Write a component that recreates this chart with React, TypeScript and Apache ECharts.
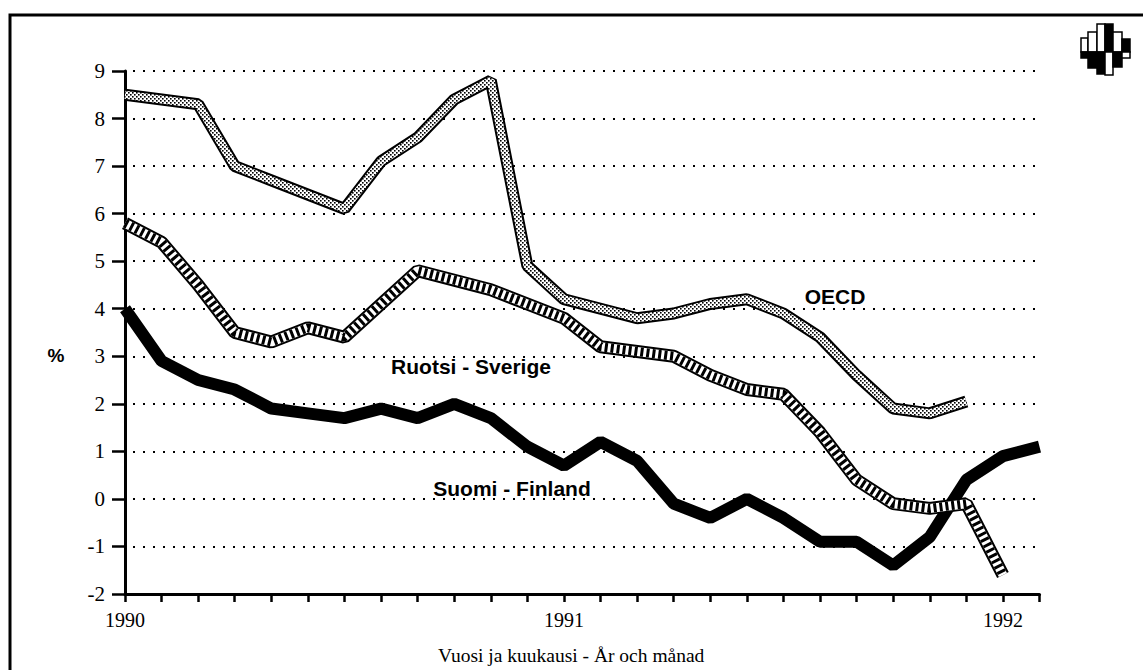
import React, { useEffect, useRef } from "react";
import * as echarts from "echarts";

const months = [
  "1990-01", "1990-02", "1990-03", "1990-04", "1990-05", "1990-06", "1990-07", "1990-08", "1990-09", "1990-10", "1990-11", "1990-12",
  "1991-01", "1991-02", "1991-03", "1991-04", "1991-05", "1991-06", "1991-07", "1991-08", "1991-09", "1991-10", "1991-11", "1991-12",
  "1992-01", "1992-02",
];
const finland = [4.0, 2.9, 2.5, 2.3, 1.9, 1.8, 1.7, 1.9, 1.7, 2.0, 1.7, 1.1, 0.7, 1.2, 0.8, -0.1, -0.4, 0.0, -0.4, -0.9, -0.9, -1.4, -0.8, 0.4, 0.9, 1.1];
const sweden = [5.8, 5.4, 4.5, 3.5, 3.3, 3.6, 3.4, 4.1, 4.8, 4.6, 4.4, 4.1, 3.8, 3.2, 3.1, 3.0, 2.6, 2.3, 2.2, 1.4, 0.4, -0.1, -0.2, -0.1, -1.6];
const oecd = [8.5, 8.4, 8.3, 7.0, 6.7, 6.4, 6.1, 7.1, 7.6, 8.4, 8.8, 4.9, 4.2, 4.0, 3.8, 3.9, 4.1, 4.2, 3.9, 3.4, 2.6, 1.9, 1.8, 2.05];

const seriesNames = ["OECD", "Ruotsi - Sverige", "Suomi - Finland"];
const yAxisName = "%";
const xAxisName = "Vuosi ja kuukausi - År och månad";

function makeDotPattern(): any {
  const c = document.createElement("canvas");
  c.width = 4;
  c.height = 4;
  const ctx = c.getContext("2d")!;
  ctx.fillStyle = "#ffffff";
  ctx.fillRect(0, 0, 4, 4);
  ctx.fillStyle = "#000000";
  ctx.fillRect(0, 0, 1.6, 1.6);
  ctx.fillRect(2, 2, 1.6, 1.6);
  return { image: c.toDataURL(), repeat: "repeat", imageWidth: 4, imageHeight: 4 };
}

export default function App() {
  const ref = useRef<HTMLDivElement>(null);
  useEffect(() => {
    if (!ref.current) return;
    const chart = echarts.init(ref.current, null, { renderer: "svg" });
    const dot = makeDotPattern();
    const base = {
      type: "line",
      showSymbol: false,
      symbol: "none",
      clip: false,
      silent: true,
    };
    const logoCols = [
      { x: 1081, w: 7, top: 38, bot: 58, topBlack: false },
      { x: 1088, w: 9, top: 32, bot: 68, topBlack: false },
      { x: 1097, w: 8, top: 24, bot: 74, topBlack: false },
      { x: 1105, w: 8, top: 24, bot: 75, topBlack: true },
      { x: 1113, w: 9, top: 32, bot: 67, topBlack: false },
      { x: 1122, w: 8, top: 39, bot: 58, topBlack: true },
    ];
    const mid = 52;
    const logo: any[] = [];
    logoCols.forEach((c) => {
      logo.push({
        type: "rect",
        shape: { x: c.x, y: c.top, width: c.w, height: mid - c.top },
        style: { fill: c.topBlack ? "#000" : "#fff", stroke: "#000", lineWidth: 1.5 },
      });
      logo.push({
        type: "rect",
        shape: { x: c.x, y: mid, width: c.w, height: c.bot - mid },
        style: { fill: c.topBlack ? "#fff" : "#000", stroke: "#000", lineWidth: 1.5 },
      });
    });
    const labelFont = "bold 21px 'Liberation Sans'";
    chart.setOption({
      animation: false,
      backgroundColor: "#ffffff",
      grid: { left: 125, right: 103.5, top: 71, bottom: 76 },
      xAxis: {
        type: "category",
        data: months,
        boundaryGap: false,
        axisLine: { onZero: false, lineStyle: { color: "#000", width: 3 } },
        axisTick: { show: true, interval: 0, length: 8, lineStyle: { color: "#000", width: 2.5 } },
        axisLabel: {
          interval: (i: number) => i % 12 === 0,
          formatter: (v: string) => v.slice(0, 4),
          color: "#000",
          fontFamily: "Liberation Serif",
          fontSize: 20,
          margin: 16,
        },
        splitLine: { show: false },
      },
      yAxis: {
        type: "value",
        min: -2,
        max: 9,
        interval: 1,
        axisLine: { show: true, lineStyle: { color: "#000", width: 3 } },
        axisTick: { show: true, length: 13, lineStyle: { color: "#000", width: 2.5 } },
        axisLabel: {
          color: "#000",
          fontFamily: "Liberation Serif",
          fontSize: 21,
          margin: 20,
        },
        splitLine: {
          show: true,
          lineStyle: { color: "#000", width: 2, type: [2, 8], dashOffset: -8 },
        },
      },
      series: [
        { ...base, name: seriesNames[2], data: finland, z: 2, lineStyle: { color: "#000", width: 12, cap: "butt", join: "bevel" } },
        { ...base, name: seriesNames[1] + "-o", data: sweden, z: 3, lineStyle: { color: "#000", width: 13, cap: "butt", join: "bevel" } },
        { ...base, name: seriesNames[1] + "-w", data: sweden, z: 4, lineStyle: { color: "#fff", width: 9, cap: "butt", join: "bevel" } },
        { ...base, name: seriesNames[1], data: sweden, z: 5, lineStyle: { color: "#000", width: 9, type: [3, 3], cap: "butt", join: "bevel" } },
        { ...base, name: seriesNames[0] + "-o", data: oecd, z: 3, lineStyle: { color: "#000", width: 12, cap: "butt", join: "bevel" } },
        { ...base, name: seriesNames[0], data: oecd, z: 4, lineStyle: { color: dot, width: 8, cap: "butt", join: "bevel" } },
      ],
      graphic: [
        {
          type: "rect",
          shape: { x: 10, y: 15, width: 1300, height: 800 },
          style: { fill: "none", stroke: "#000", lineWidth: 3 },
          z: 10,
        },
        { type: "group", children: logo },
        {
          type: "text",
          x: 56, y: 355,
          style: { text: yAxisName, font: "bold 19px 'Liberation Sans'", fill: "#000", align: "center", verticalAlign: "middle" },
        },
        {
          type: "text",
          x: 835, y: 296,
          style: { text: seriesNames[0], font: labelFont, fill: "#000", align: "center", verticalAlign: "middle" },
        },
        {
          type: "text",
          x: 471, y: 366,
          style: { text: seriesNames[1], font: labelFont, fill: "#000", align: "center", verticalAlign: "middle" },
        },
        {
          type: "text",
          x: 512, y: 488,
          style: { text: seriesNames[2], font: labelFont, fill: "#000", align: "center", verticalAlign: "middle" },
        },
        {
          type: "text",
          x: 438, y: 655,
          style: { text: xAxisName, font: "19.5px 'Liberation Serif'", fill: "#000", align: "left", verticalAlign: "middle" },
        },
      ],
    } as any);
    return () => chart.dispose();
  }, []);
  return <div ref={ref} style={{ position: "absolute", left: 0, top: 0, width: 1143, height: 670 }} />;
}
